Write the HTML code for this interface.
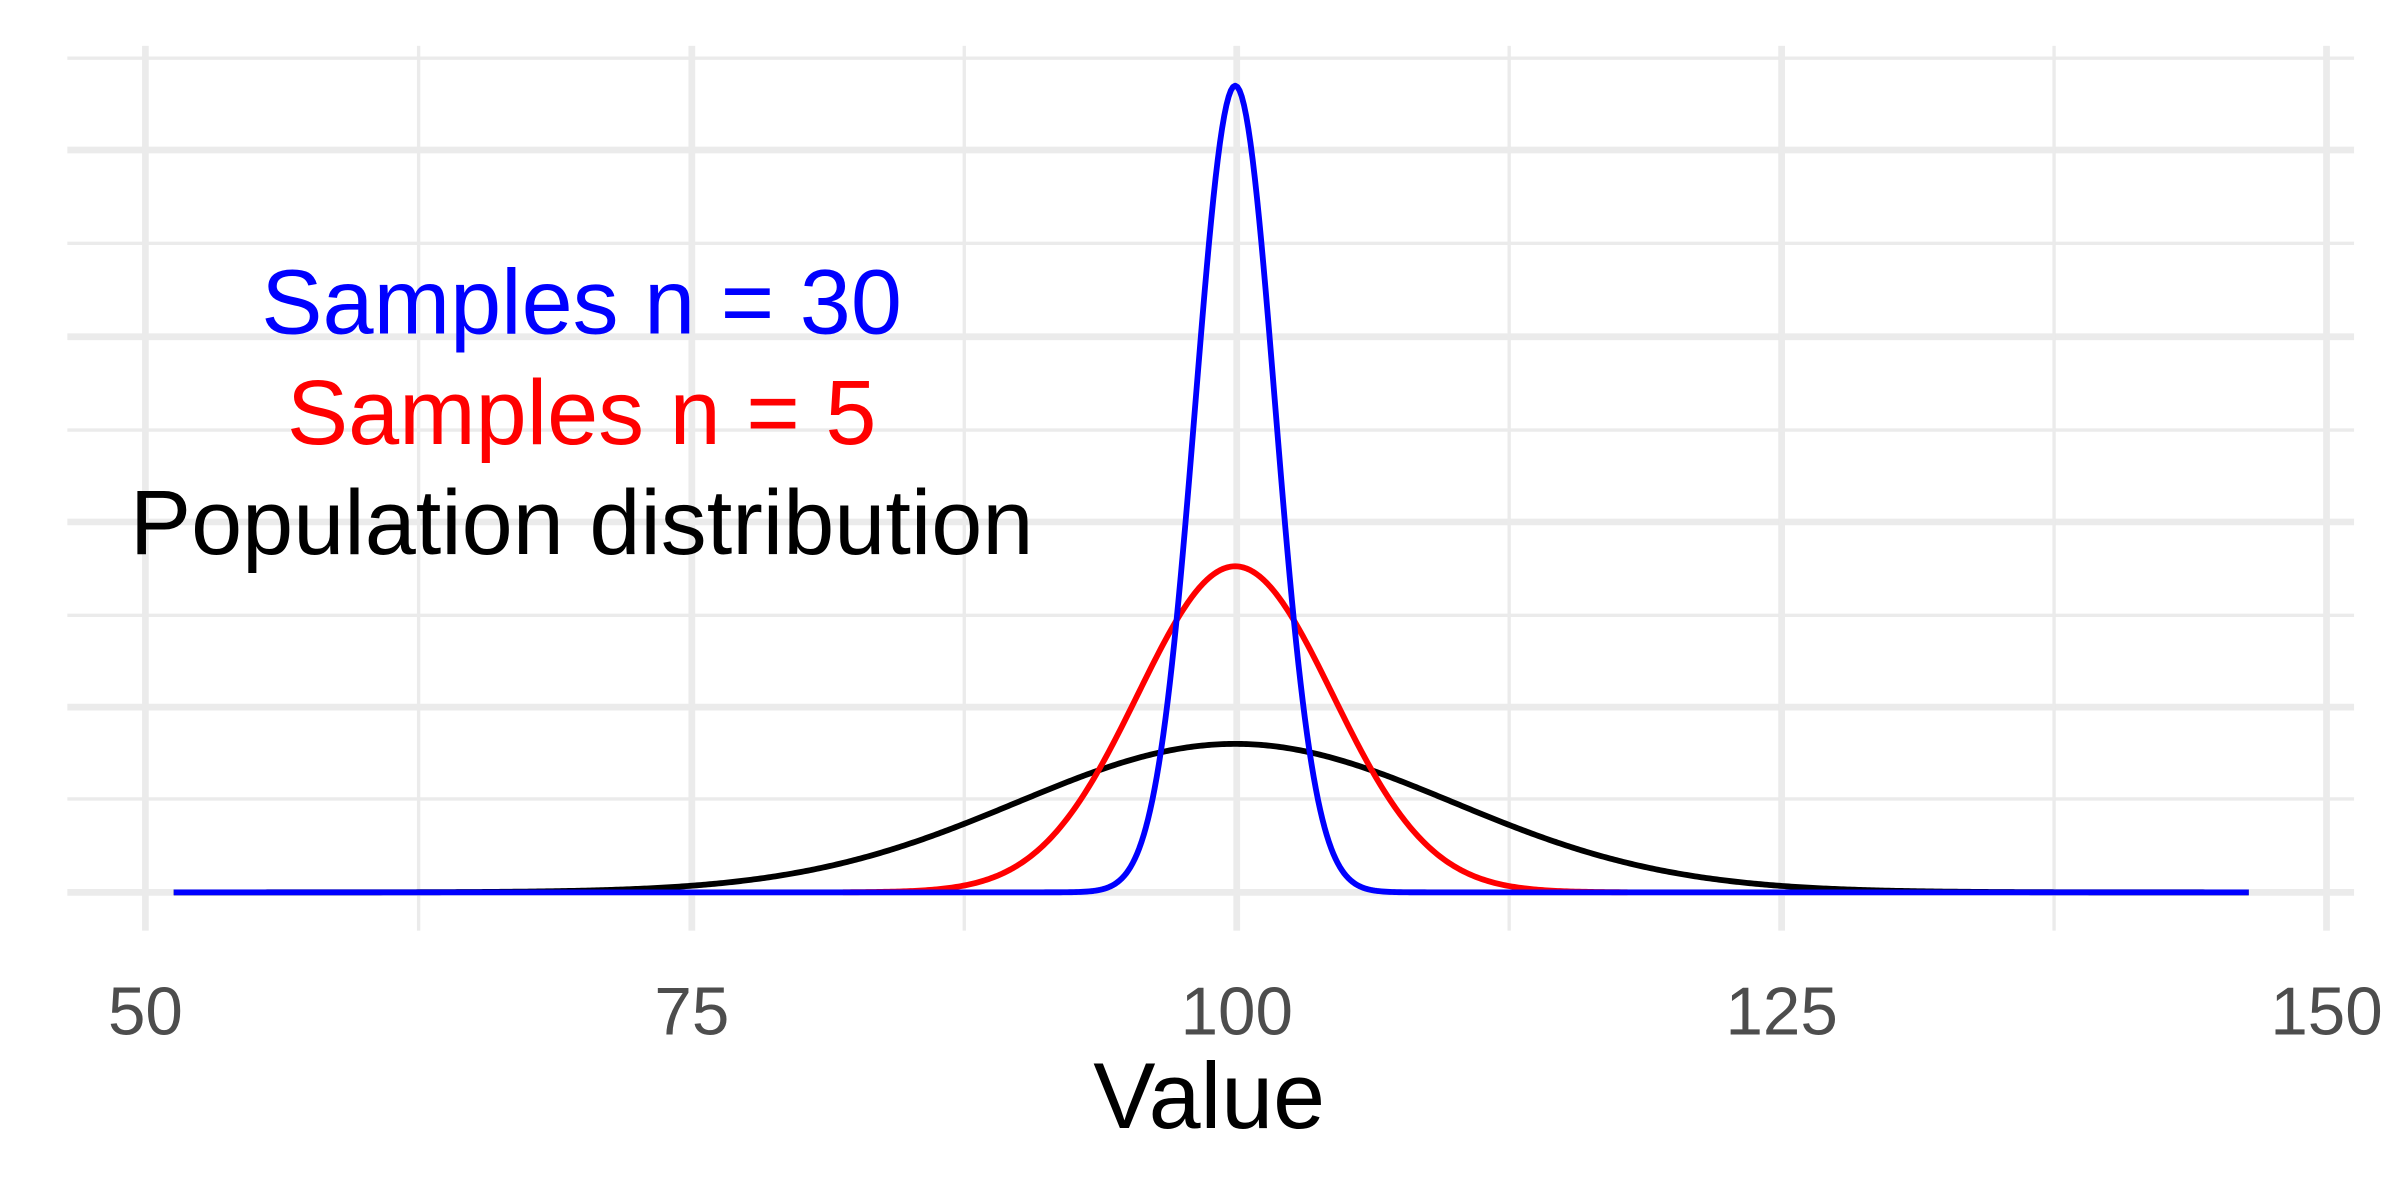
<!DOCTYPE html>
<html><head><style>html,body{margin:0;padding:0;background:#fff}svg{display:block}</style></head>
<body>
<svg id="s" width="2400" height="1200" viewBox="0 0 1568 784" xmlns="http://www.w3.org/2000/svg" font-family="Liberation Sans, Arial, sans-serif">
<rect width="1568" height="784" fill="#fff"/>
<g id="grid"></g>
<g id="curves" fill="none" stroke-width="3.8" stroke-linejoin="round"></g>
<text x="380" y="218" font-size="60" fill="#0000ff" text-anchor="middle">Samples n = 30</text>
<text x="380" y="290" font-size="60" fill="#ff0000" text-anchor="middle">Samples n = 5</text>
<text x="380" y="362" font-size="60" fill="#000" text-anchor="middle">Population distribution</text>
<g font-size="44" fill="#4d4d4d" text-anchor="middle">
<text x="95" y="676">50</text><text x="452" y="676">75</text><text x="808" y="676">100</text><text x="1164" y="676">125</text><text x="1520" y="676">150</text>
</g>
<text x="790" y="737" font-size="61" fill="#000" text-anchor="middle">Value</text>
<script>
var g=document.getElementById('grid'),ns='http://www.w3.org/2000/svg';
function ln(x1,y1,x2,y2,w){var l=document.createElementNS(ns,'line');l.setAttribute('x1',x1);l.setAttribute('y1',y1);l.setAttribute('x2',x2);l.setAttribute('y2',y2);l.setAttribute('stroke','#ebebeb');l.setAttribute('stroke-width',w);g.appendChild(l);}
[38,159,281,402,522].forEach(function(y){ln(44,y,1538,y,2.2)});
[98,220,341,462,583].forEach(function(y){ln(44,y,1538,y,4.4)});
[273.5,630,986,1342].forEach(function(x){ln(x,30,x,608,2.2)});
[95,452,808,1164,1520].forEach(function(x){ln(x,30,x,608,4.4)});
function X(v){return 95+(v-50)*14.24;}
function path(sd,h,col,x0,x1){var d='';for(var v=x0;v<=x1+1e-9;v+=0.1){var y=583-h*Math.exp(-0.5*Math.pow((v-100)/sd,2));d+=(d?'L':'M')+X(v).toFixed(2)+','+y.toFixed(2);}
var p=document.createElementNS(ns,'path');p.setAttribute('d',d);p.setAttribute('stroke',col);document.getElementById('curves').appendChild(p);}
path(10,97,'#000',51.3,146.5);
path(10/Math.sqrt(5),213,'#ff0000',82,118);
path(10/Math.sqrt(30),527,'#0000ff',51.3,146.5);
</script>
</svg>
</body></html>
